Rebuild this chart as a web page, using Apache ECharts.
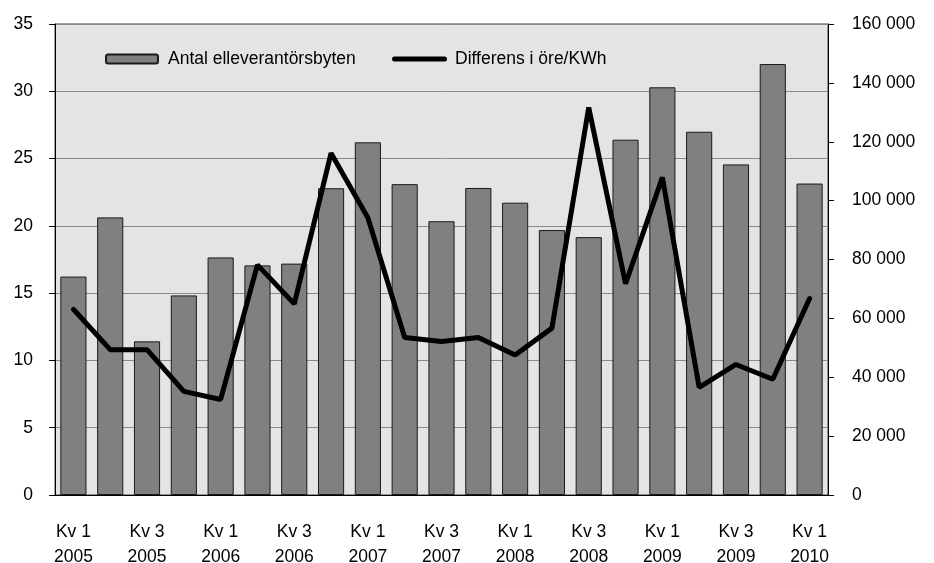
<html>
<head>
	<meta charset="UTF-8">
	<script src="https://cdn.jsdelivr.net/npm/echarts@6/dist/echarts.min.js"></script>
</head>
<body style="margin:0;width:934px;height:563px;background:#fff;">
<div id="chart" style="width:934px;height:563px;"></div>
<script type="text/javascript">

        // kvartal, Kv 1 2005 - Kv 1 2010
        var quarters = ['Kv 1\n2005', 'Kv 2\n2005', 'Kv 3\n2005', 'Kv 4\n2005',
                        'Kv 1\n2006', 'Kv 2\n2006', 'Kv 3\n2006', 'Kv 4\n2006',
                        'Kv 1\n2007', 'Kv 2\n2007', 'Kv 3\n2007', 'Kv 4\n2007',
                        'Kv 1\n2008', 'Kv 2\n2008', 'Kv 3\n2008', 'Kv 4\n2008',
                        'Kv 1\n2009', 'Kv 2\n2009', 'Kv 3\n2009', 'Kv 4\n2009',
                        'Kv 1\n2010']

        // antal byten (höger axel)
        var byten = [74200, 94300, 52200, 67800, 80700, 78000, 78600, 104200,
                     119800, 105600, 93000, 104300, 99300, 90000, 87600, 120700,
                     138500, 123400, 112300, 146400, 105800]

        // differens i öre/KWh (vänster axel)
        var differens = [13.8, 10.8, 10.8, 7.7, 7.1, 17.1, 14.2, 25.4,
                         20.6, 11.7, 11.4, 11.7, 10.4, 12.4, 28.8, 15.7,
                         23.6, 8.0, 9.7, 8.6, 14.6]

        var leftTicks = [0, 35, 5]
        var rightTicks = [0, 160000, 20000]

        var FONT = '"Liberation Sans", Arial, sans-serif'
        var FS = 17.5

        var myChart = echarts.init(document.getElementById('chart'))

        function spaceThousands(v) {
            return String(v).replace(/\B(?=(\d{3})+(?!\d))/g, ' ')
        }

        // tjock linje med runda ändar i förklaringen
        var lineIcon = 'path://M2.5,0 L52.5,0 A2.5,2.5 0 0 1 52.5,5 L2.5,5 A2.5,2.5 0 0 1 2.5,0 Z'

        var option = {
            animation: false,
            textStyle: { fontFamily: FONT, color: '#000' },
            grid: {
                left: 55, right: 106, top: 24, bottom: 68,
                outerBoundsMode: 'none',
                show: true,
                backgroundColor: '#e4e4e4',
                borderColor: '#404040',
                borderWidth: 1
            },
            legend: [
                {
                    data: ['Antal elleverantörsbyten'],
                    left: 100, top: 45,
                    itemWidth: 52, itemHeight: 9,
                    textStyle: { fontFamily: FONT, fontSize: FS, color: '#000', padding: [0, 0, 0, 5] }
                },
                {
                    data: [{ name: 'Differens i öre/KWh', icon: lineIcon, itemStyle: { color: '#000', borderWidth: 0 } }],
                    left: 387, top: 45,
                    itemWidth: 55, itemHeight: 5,
                    textStyle: { fontFamily: FONT, fontSize: FS, color: '#000', padding: [0, 0, 0, 3] }
                }
            ],
            xAxis: {
                type: 'category',
                data: quarters,
                axisLine: { lineStyle: { color: '#000', width: 1 } },
                axisTick: { show: false },
                axisLabel: {
                    interval: 1,
                    margin: 25,
                    fontSize: FS,
                    lineHeight: 25,
                    color: '#000',
                    fontFamily: FONT
                }
            },
            yAxis: [
                {
                    type: 'value',
                    min: leftTicks[0], max: leftTicks[1], interval: leftTicks[2],
                    axisLine: { show: true, lineStyle: { color: '#000', width: 1 } },
                    axisTick: { show: true, length: 6, lineStyle: { color: '#000' } },
                    axisLabel: { margin: 22, fontSize: FS, color: '#000', fontFamily: FONT },
                    splitLine: { show: true, lineStyle: { color: '#8a8a8a', width: 1 } }
                },
                {
                    type: 'value',
                    min: rightTicks[0], max: rightTicks[1], interval: rightTicks[2],
                    axisLine: { show: true, lineStyle: { color: '#000', width: 1 } },
                    axisTick: { show: true, length: 6, lineStyle: { color: '#000' } },
                    axisLabel: {
                        margin: 24, fontSize: FS, color: '#000', fontFamily: FONT,
                        formatter: spaceThousands
                    },
                    splitLine: { show: false }
                }
            ],
            series: [
                {
                    name: 'Antal elleverantörsbyten',
                    type: 'bar',
                    yAxisIndex: 1,
                    data: byten,
                    barCategoryGap: '29%',
                    itemStyle: { color: '#808080', borderColor: '#1a1a1a', borderWidth: 1 },
                    z: 2
                },
                {
                    name: 'Differens i öre/KWh',
                    type: 'line',
                    yAxisIndex: 0,
                    data: differens,
                    symbol: 'none',
                    lineStyle: { color: '#000', width: 5, cap: 'round' },
                    itemStyle: { color: '#000' },
                    z: 3
                }
            ]
        }

        myChart.setOption(option)

</script>
</body>
</html>
